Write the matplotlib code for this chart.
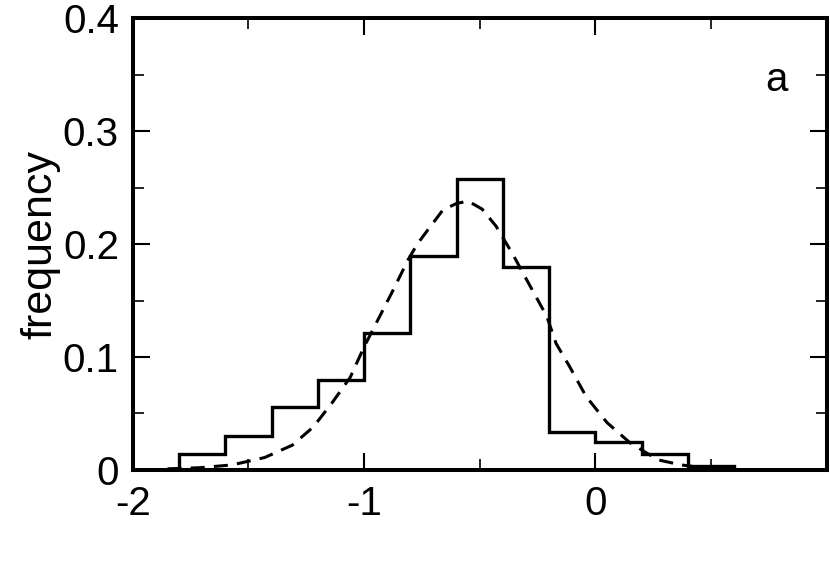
import numpy as np
import matplotlib
matplotlib.use("Agg")
import matplotlib.pyplot as plt

plt.rcParams['font.family'] = ['Liberation Sans', 'DejaVu Sans']

# histogram: bin edges and frequencies
edges = [-1.8, -1.6, -1.4, -1.2, -1.0, -0.8, -0.6, -0.4, -0.2, 0.0, 0.2, 0.4, 0.6]
freq = [0.014, 0.030, 0.056, 0.080, 0.121, 0.189, 0.258, 0.180, 0.034, 0.025, 0.014, 0.0035]

fit_x = [-1.85, -1.71, -1.57, -1.43, -1.31, -1.22, -1.14, -1.06, -1.00, -0.94, -0.88,
         -0.81, -0.77, -0.73, -0.66, -0.60, -0.55, -0.49, -0.43, -0.36, -0.28, -0.21,
         -0.17, -0.11, -0.04, 0.05, 0.15, 0.27, 0.37, 0.50, 0.62]
fit_y = [0.001, 0.002, 0.0045, 0.011, 0.022, 0.038, 0.059, 0.082, 0.109, 0.133, 0.157,
         0.186, 0.200, 0.211, 0.230, 0.236, 0.238, 0.231, 0.216, 0.192, 0.162, 0.136,
         0.112, 0.091, 0.065, 0.042, 0.024, 0.009, 0.0045, 0.001, 0.0002]

fig = plt.figure(figsize=(8.3, 5.86), dpi=100)
ax = fig.add_axes([0.160, 0.198, 0.836, 0.771])

ax.stairs(freq, edges, baseline=0, color='black', lw=2.4)
ax.plot(fit_x, fit_y, color='black', lw=2.2, dashes=(4.6, 3.0))

ax.set_xlim(-2, 1)
ax.set_ylim(0, 0.4)
ax.set_xticks([-2, -1, 0, 1])
ax.set_xticklabels(['-2', '-1', '0', ''])
ax.set_xticks(np.arange(-2, 1.01, 0.5), minor=True)
ax.set_yticks([0, 0.1, 0.2, 0.3, 0.4])
ax.set_yticklabels(['0', '0.1', '0.2', '0.3', '0.4'])
ax.set_yticks(np.arange(0, 0.401, 0.05), minor=True)

ax.tick_params(which='both', direction='in', top=True, right=True, labelsize=29, color='black')
ax.tick_params(which='major', length=12, width=1.5)
ax.tick_params(which='minor', length=8, width=1.2)
ax.tick_params(axis='x', pad=11)
ax.tick_params(axis='y', pad=10)
for s in ax.spines.values():
    s.set_linewidth(2.9)

ax.set_ylabel('frequency', fontsize=31, labelpad=2)
ax.text(0.785, 0.345, 'a', fontsize=29, ha='center', va='center')

fig.savefig('out.png', dpi=100)
